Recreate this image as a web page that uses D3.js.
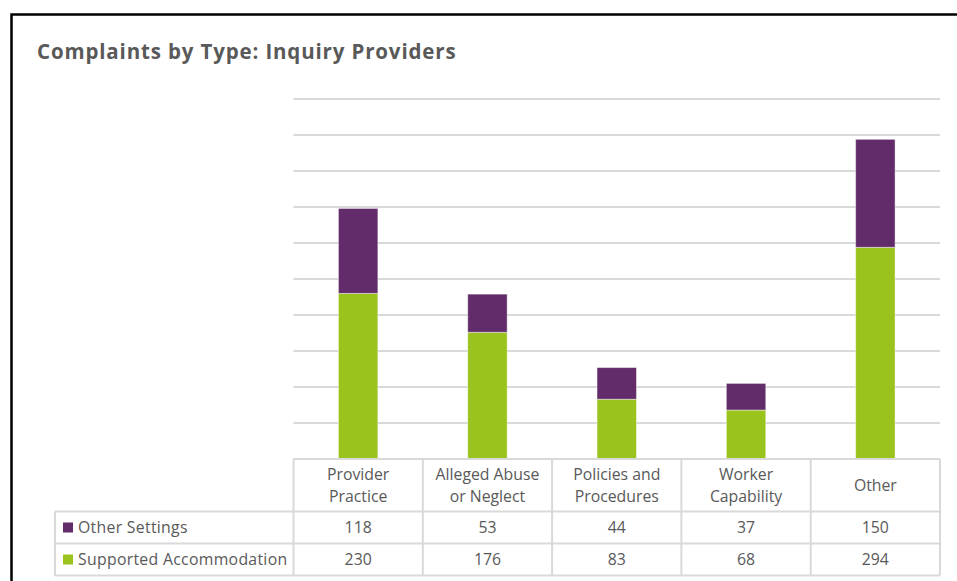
<!DOCTYPE html>
<html>
<head>
<meta charset="utf-8">
<script src="https://cdn.jsdelivr.net/npm/d3@7"></script>
<style>
  body { margin: 0; background: #fff; }
  svg { display: block; }
  text { font-family: "Open Sans", "Noto Sans", sans-serif; fill: #595959; }
</style>
</head>
<body>
<div id="chart"></div>
<script>
const categories = ["Provider Practice", "Alleged Abuse or Neglect", "Policies and Procedures", "Worker Capability", "Other"];
const categoryLines = [["Provider", "Practice"], ["Alleged Abuse", "or Neglect"], ["Policies and", "Procedures"], ["Worker", "Capability"], ["Other"]];
const seriesNames = ["Supported Accommodation", "Other Settings"];
const supportedAccommodation = [230, 176, 83, 68, 294];
const otherSettings = [118, 53, 44, 37, 150];
const yTicks = [0, 50, 100, 150, 200, 250, 300, 350, 400, 450, 500];

const colors = { "Supported Accommodation": "#9bc31d", "Other Settings": "#622b69" };

const W = 957, H = 581;
const svg = d3.select("#chart").append("svg")
    .attr("width", W)
    .attr("height", H);

// black frame round the chart
svg.append("rect")
    .attr("x", 11.5).attr("y", 14.5)
    .attr("width", W + 20).attr("height", H + 20)
    .attr("fill", "none")
    .attr("stroke", "#000")
    .attr("stroke-width", 2.5);

svg.append("text")
    .attr("x", 37)
    .attr("y", 58.5)
    .attr("font-size", 20.5)
    .attr("font-weight", "bold")
    .attr("letter-spacing", 0.85)
    .text("Complaints by Type: Inquiry Providers");

const plotLeft = 293.5, plotRight = 940;
const x = d3.scaleBand()
    .domain(categories)
    .range([plotLeft, plotRight])
    .padding(0);

const y = d3.scaleLinear()
    .domain([0, 500])
    .range([459, 99]);

// gridlines
svg.append("g")
    .selectAll("line")
    .data(yTicks)
    .join("line")
    .attr("x1", plotLeft)
    .attr("x2", plotRight)
    .attr("y1", d => y(d))
    .attr("y2", d => y(d))
    .attr("stroke", "#d9d9d9")
    .attr("stroke-width", 2);

// stacked bars
const rows = categories.map((c, i) => ({
    category: c,
    "Supported Accommodation": supportedAccommodation[i],
    "Other Settings": otherSettings[i]
}));
const stack = d3.stack().keys(seriesNames)(rows);
const barW = x.bandwidth() * 0.305;

svg.append("g")
    .selectAll("g")
    .data(stack)
    .join("g")
    .attr("fill", d => colors[d.key])
    .selectAll("rect")
    .data(d => d)
    .join("rect")
    .attr("x", d => x(d.data.category) + x.bandwidth() / 2 - barW / 2)
    .attr("y", d => y(d[1]))
    .attr("width", barW)
    .attr("height", d => y(d[0]) - y(d[1]))
    .attr("stroke", "rgba(255,255,255,0.45)")
    .attr("stroke-width", 1);

// data table
const tableLeft = 55;
const rowTops = [459, 511.5, 543.5, 575.5];
const grid = svg.append("g")
    .attr("stroke", "#d9d9d9")
    .attr("stroke-width", 2)
    .attr("fill", "none");

// horizontal lines
grid.append("line").attr("x1", plotLeft).attr("x2", plotRight).attr("y1", rowTops[0]).attr("y2", rowTops[0]);
rowTops.slice(1).forEach(r => {
    grid.append("line").attr("x1", tableLeft).attr("x2", plotRight).attr("y1", r).attr("y2", r);
});
// vertical lines
categories.forEach(c => {
    grid.append("line").attr("x1", x(c)).attr("x2", x(c)).attr("y1", rowTops[0]).attr("y2", rowTops[3]);
});
grid.append("line").attr("x1", plotRight).attr("x2", plotRight).attr("y1", rowTops[0]).attr("y2", rowTops[3]);
grid.append("line").attr("x1", tableLeft).attr("x2", tableLeft).attr("y1", rowTops[1]).attr("y2", rowTops[3]);

const fs = 15.8;
// header labels
categories.forEach((c, i) => {
    const lines = categoryLines[i];
    const cx = x(c) + x.bandwidth() / 2;
    const mid = (rowTops[0] + rowTops[1]) / 2;
    lines.forEach((ln, j) => {
        svg.append("text")
            .attr("x", cx)
            .attr("y", mid + (j - (lines.length - 1) / 2) * 22.5 + 5.5)
            .attr("text-anchor", "middle")
            .attr("font-size", fs)
            .text(ln);
    });
});

// value rows: Other Settings on top, Supported Accommodation below
const tableRows = [
    { name: "Other Settings", values: otherSettings },
    { name: "Supported Accommodation", values: supportedAccommodation }
];
tableRows.forEach((r, k) => {
    const mid = (rowTops[k + 1] + rowTops[k + 2]) / 2;
    svg.append("rect")
        .attr("x", 63).attr("y", mid - 5)
        .attr("width", 10).attr("height", 10)
        .attr("fill", colors[r.name]);
    svg.append("text")
        .attr("x", 78)
        .attr("y", mid + 5.5)
        .attr("font-size", fs)
        .attr("letter-spacing", 0.3)
        .text(r.name);
    r.values.forEach((v, i) => {
        svg.append("text")
            .attr("x", x(categories[i]) + x.bandwidth() / 2)
            .attr("y", mid + 5.5)
            .attr("text-anchor", "middle")
            .attr("font-size", fs)
            .text(v);
    });
});
</script>
</body>
</html>
